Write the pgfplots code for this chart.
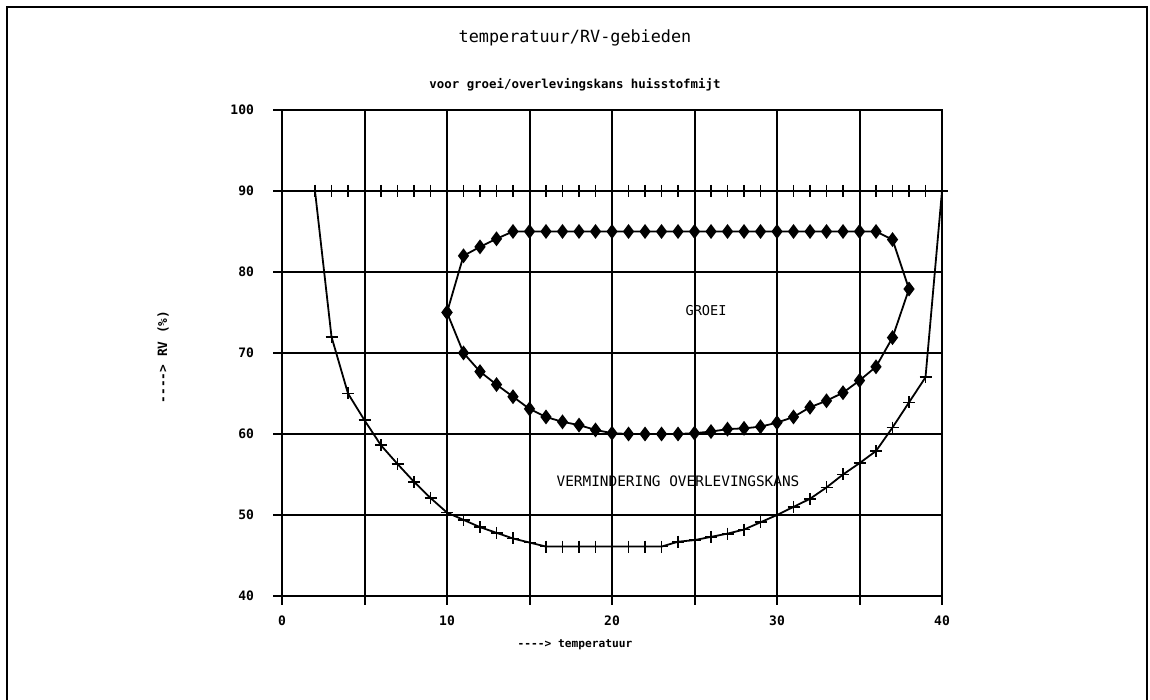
\documentclass[border=0pt]{standalone}
\usepackage{fontspec}
\setmainfont{DejaVu Sans Mono}[Ligatures=TeXOff]
\usepackage{pgfplots}
\pgfplotsset{compat=1.18}
\begin{document}
\begin{tikzpicture}
\path[use as bounding box] (0,0) rectangle (575pt,350pt);
\draw[line width=1pt] (3.5pt,0pt) -- (3.5pt,346.5pt) -- (573.5pt,346.5pt) -- (573.5pt,0pt);
\node[font=\fontsize{8.4}{10}\selectfont] at (287.5pt,331pt) {temperatuur/RV-gebieden};
\node[font=\bfseries\fontsize{6.2}{8}\selectfont] at (287.5pt,307.5pt) {voor groei/overlevingskans huisstofmijt};
\node[font=\bfseries\fontsize{6.4}{8}\selectfont, rotate=90] at (81.5pt,171.5pt) {----> RV (\%)};
\node[font=\bfseries\fontsize{5.6}{7}\selectfont] at (287.5pt,27.5pt) {----> temperatuur};
\begin{axis}[
  at={(141pt,52pt)}, anchor=south west,
  scale only axis, width=330pt, height=243pt,
  xmin=0, xmax=40, ymin=40, ymax=100,
  xtick={0,5,...,40}, xticklabels={0,,10,,20,,30,,40},
  ytick={40,50,...,100},
  xtick pos=bottom, ytick pos=left,
  grid=major, grid style={black, line width=1pt},
  axis line style={black, line width=1pt},
  tick style={black, line width=1pt},
  tick align=outside, major tick length=4.5pt,
  /pgf/number format/assume math mode=true,
  ticklabel style={font=\bfseries\fontsize{6.5}{8}\selectfont},
  yticklabel style={xshift=-6pt},
  xticklabel style={yshift=-2pt},
  clip=false,
]
\addplot[black, line width=0.9pt, mark=+, mark size=3pt, mark options={line width=0.9pt}] coordinates {
(2,90)(3,90)(4,90)(5,90)(6,90)(7,90)(8,90)(9,90)(10,90)(11,90)(12,90)(13,90)(14,90)(15,90)(16,90)(17,90)(18,90)(19,90)(20,90)(21,90)(22,90)(23,90)(24,90)(25,90)(26,90)(27,90)(28,90)(29,90)(30,90)(31,90)(32,90)(33,90)(34,90)(35,90)(36,90)(37,90)(38,90)(39,90)(40,90)};
\addplot[black, line width=0.9pt, mark=+, mark size=3pt, mark options={line width=0.9pt}] coordinates {
(2,90)(3,72)(4,65)(5,61.7)(6,58.6)(7,56.3)(8,54.1)(9,52.1)(10,50.3)(11,49.4)(12,48.5)(13,47.8)(14,47.1)(15,46.6)(16,46.1)(17,46.1)(18,46.1)(19,46.1)(20,46.1)(21,46.1)(22,46.1)(23,46.1)(24,46.7)(25,46.9)(26,47.3)(27,47.7)(28,48.2)(29,49.1)(30,50.0)(31,51.0)(32,52.0)(33,53.4)(34,55.0)(35,56.4)(36,57.9)(37,60.8)(38,63.9)(39,67.0)(40,90)};
\addplot[black, line width=0.9pt, mark=diamond*, mark size=3pt, mark options={fill=black}] coordinates {
(10,75)(11,82)(12,83.1)(13,84.1)(14,85)(15,85)(16,85)(17,85)(18,85)(19,85)(20,85)(21,85)(22,85)(23,85)(24,85)(25,85)(26,85)(27,85)(28,85)(29,85)(30,85)(31,85)(32,85)(33,85)(34,85)(35,85)(36,85)(37,84)(38,77.9)(37,71.9)(36,68.3)(35,66.6)(34,65.1)(33,64.1)(32,63.3)(31,62.1)(30,61.4)(29,60.9)(28,60.7)(27,60.6)(26,60.3)(25,60.1)(24,60)(23,60)(22,60)(21,60)(20,60.1)(19,60.5)(18,61.1)(17,61.5)(16,62.1)(15,63.1)(14,64.6)(13,66.1)(12,67.7)(11,70)(10,75)};
\node[font=\fontsize{6.8}{8}\selectfont] at (axis cs:25.7,75.2) {GROEI};
\node[font=\fontsize{7.2}{8}\selectfont] at (axis cs:24.0,54.2) {VERMINDERING OVERLEVINGSKANS};
\end{axis}
\end{tikzpicture}
\end{document}
